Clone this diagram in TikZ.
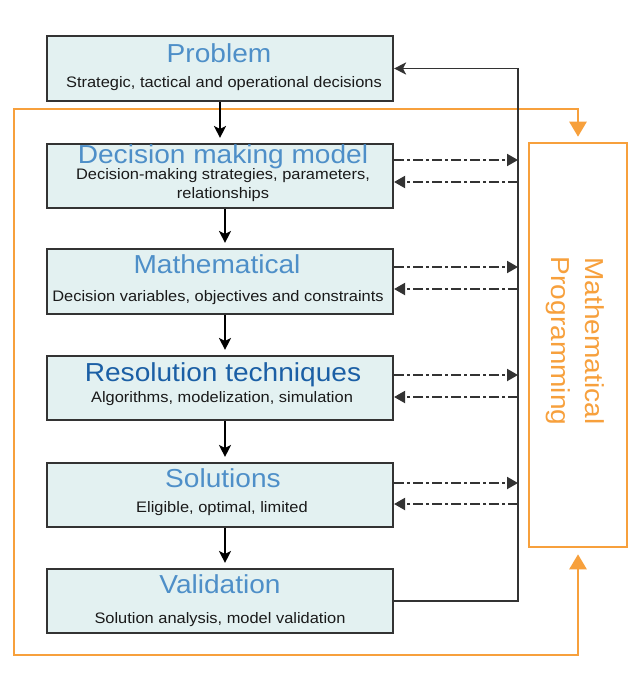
\documentclass[tikz,border=0pt]{standalone}
\usepackage{fontspec}
\setmainfont{Liberation Sans}
\newfontfamily\wide[FakeStretch=1.08]{Liberation Sans}
\usetikzlibrary{arrows.meta}
\definecolor{boxfill}{HTML}{E3F1F1}
\definecolor{ttl}{HTML}{4E8FC8}
\definecolor{ttldark}{HTML}{1B5FA5}
\definecolor{orng}{HTML}{F7A03C}
\definecolor{edge}{HTML}{333333}
\definecolor{subtxt}{HTML}{1A1A1A}
\tikzset{
 stepbox/.style={draw=edge, line width=2.1pt, fill=boxfill, minimum width=346pt, inner sep=0pt},
 ttlnode/.style={anchor=base, text=ttl, font=\wide\fontsize{26}{30}\selectfont, inner sep=0pt},
 subnode/.style={anchor=base, text=subtxt, font=\wide\fontsize{15.2}{18}\selectfont, inner sep=0pt},
 flow/.style={draw=black, line width=1.9pt, -{Stealth[length=12pt,width=12pt,inset=3pt]}, shorten >=5pt},
 dd/.style={draw=edge, line width=2pt, dash pattern=on 10pt off 3pt on 3pt off 3pt, -{Triangle[length=11pt,width=12pt]}},
 fb/.style={draw=edge, line width=1.9pt, -{Stealth[length=12pt,width=12pt,inset=3pt]}},
 orline/.style={draw=orng, line width=2.6pt, {Triangle[length=15pt,width=17pt]}-{Triangle[length=15pt,width=17pt]}, shorten <=6pt, shorten >=5pt},
}
\begin{document}
\begin{tikzpicture}[x=1pt,y=-1pt]
\fill[white] (0,0) rectangle (640,674);
\useasboundingbox (0,0) rectangle (640,674);

% coordinates for the routing
\coordinate (bus) at (518,0);
\coordinate (obot) at (0,655);
\coordinate (otop) at (0,109);
\coordinate (oleft) at (14,0);

% Mathematical programming box
\node[draw=orng, line width=2.6pt, minimum width=98pt, minimum height=404pt, inner sep=0pt] (mp) at (578,345) {};
\node[rotate=-90, text=orng, align=center, inner sep=0pt, font=\wide\fontsize{26}{34}\selectfont] (mpt) at (575,341) {Mathematical\\Programming};

% orange loop
\draw[orline] (mp.south) -- (mp.south |- obot) -- (oleft |- obot) -- (oleft |- otop) -- (mp.north |- otop) -- (mp.north);

% boxes
\node[stepbox, minimum height=65pt] (p) at (220,68.5) {};
\node[stepbox, minimum height=64pt] (d) at (220,176) {};
\node[stepbox, minimum height=65pt] (m) at (220,281.5) {};
\node[stepbox, minimum height=64pt] (r) at (220,388) {};
\node[stepbox, minimum height=64pt] (s) at (220,495) {};
\node[stepbox, minimum height=64pt] (v) at (220,601) {};

% texts
\node[ttlnode] (pt) at (219,63) {Problem};
\node[subnode] (ps) at (224,88) {Strategic, tactical and operational decisions};
\node[ttlnode] (dt) at (223,163) {Decision making model};
\node[subnode] (ds1) at (223,179) {Decision-making strategies, parameters,};
\node[subnode] (ds2) at (223,198) {relationships};
\node[ttlnode] (mt) at (217,273) {Mathematical};
\node[subnode] (ms) at (218,301) {Decision variables, objectives and constraints};
\node[ttlnode, text=ttldark] (rt) at (223,381) {Resolution techniques};
\node[subnode] (rs) at (222,402) {Algorithms, modelization, simulation};
\node[ttlnode] (st) at (223,487) {Solutions};
\node[subnode] (ss) at (222,512) {Eligible, optimal, limited};
\node[ttlnode] (vt) at (220,593) {Validation};
\node[subnode] (vs) at (220,623) {Solution analysis, model validation};

% main flow
\draw[flow] (p.south) -- (d.north);
\draw[flow] ([xshift=5pt]d.south) -- ([xshift=5pt]m.north);
\draw[flow] ([xshift=5pt]m.south) -- ([xshift=5pt]r.north);
\draw[flow] ([xshift=5pt]r.south) -- ([xshift=5pt]s.north);
\draw[flow] ([xshift=5pt]s.south) -- ([xshift=5pt]v.north);

% dash-dot exchanges with the bus
\draw[dd] ([yshift=16pt]d.east) -- ([yshift=16pt]d.east -| bus);
\draw[dd] ([yshift=-6pt]d.east -| bus) -- ([yshift=-6pt]d.east);
\draw[dd] ([yshift=14.5pt]m.east) -- ([yshift=14.5pt]m.east -| bus);
\draw[dd] ([yshift=-7.5pt]m.east -| bus) -- ([yshift=-7.5pt]m.east);
\draw[dd] ([yshift=13pt]r.east) -- ([yshift=13pt]r.east -| bus);
\draw[dd] ([yshift=-9pt]r.east -| bus) -- ([yshift=-9pt]r.east);
\draw[dd] ([yshift=12pt]s.east) -- ([yshift=12pt]s.east -| bus);
\draw[dd] ([yshift=-9pt]s.east -| bus) -- ([yshift=-9pt]s.east);

% feedback
\draw[fb] (v.east) -- (v.east -| bus) -- (p.east -| bus) -- (p.east);
\end{tikzpicture}
\end{document}
